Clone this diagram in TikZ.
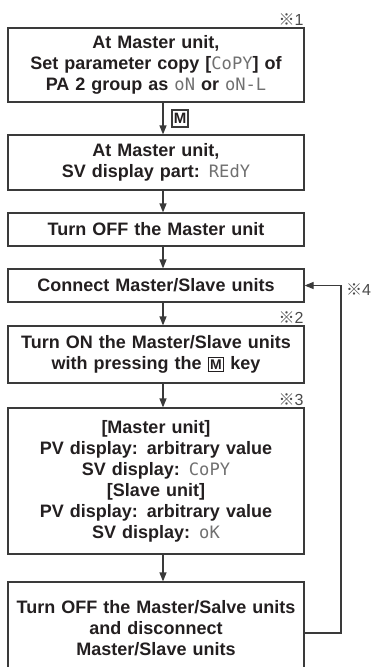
\documentclass[tikz,border=0pt]{standalone}
\usepackage{fontspec}
\usepackage{xcolor}
\usepackage{tikz}
\usetikzlibrary{arrows.meta}
\setmainfont{Liberation Sans}
\newfontfamily\segfont[Scale=0.95]{DejaVu Sans Mono}
\newfontfamily\cjkfont{Noto Sans CJK JP}
\definecolor{ink}{HTML}{231F20}
\definecolor{frame}{HTML}{3A3A3A}
\definecolor{segment}{HTML}{707070}
\definecolor{muted}{HTML}{4A4A4A}
\newcommand{\seg}[1]{{\segfont\mdseries\color{segment}#1}}
\newcommand{\refmark}[1]{{\cjkfont ※}#1}
\newcommand{\keycap}{{\setlength{\fboxsep}{1.5pt}\setlength{\fboxrule}{1pt}\fbox{\fontsize{14}{14}\selectfont M}}}

\begin{document}
\begin{tikzpicture}[x=1pt,y=-1pt,
        box/.style={draw=frame,line width=1.2pt,text=ink,font=\fontsize{18}{21}\selectfont\bfseries,
                align=center,text width=290pt,inner xsep=3pt,inner ysep=0pt,minimum width=296pt},
        flow/.style={draw=frame,line width=1.2pt,-{Triangle[length=9pt,width=7pt]}},
        note/.style={text=muted,font=\fontsize{16}{16}\selectfont,inner sep=1pt}]
        \useasboundingbox (0,0) rectangle (373,667);

        % steps
        \node[box,minimum height=74pt] (b1) at (156,65) {At Master unit,\\Set parameter copy [\seg{CoPY}] of\\PA 2 group as \seg{oN} or \seg{oN-L}};
        \node[box,minimum height=55pt] (b2) at (156,162.5) {At Master unit,\\SV display part: \seg{REdY}};
        \node[box,minimum height=33pt] (b3) at (156,229.5) {Turn OFF the Master unit};
        \node[box,minimum height=33pt] (b4) at (156,285.5) {Connect Master/Slave units};
        \node[box,minimum height=57pt] (b5) at (156,354.5) {Turn ON the Master/Slave units\\with pressing the \keycap{} key};
        \node[box,minimum height=146pt] (b6) at (156,481) {[Master unit]\\PV display: arbitrary value\\SV display: \seg{CoPY}\\[0pt][Slave unit]\\PV display: arbitrary value\\SV display: \seg{oK}};
        \node[box,minimum height=92pt] (b7) at (156,628) {Turn OFF the Master/Salve units\\and disconnect\\Master/Slave units};

        % arrows down
        \coordinate (ax) at (163,0);
        \foreach \a/\b in {b1/b2,b2/b3,b3/b4,b4/b5,b5/b6,b6/b7}{
                \draw[flow] (\a.south -| ax) -- (\b.north -| ax);
            }
        \node[draw=frame,line width=1.2pt,text=ink,font=\fontsize{15}{15}\selectfont\bfseries,
                minimum width=16pt,minimum height=17pt,inner sep=0pt] (mkey) at (180,118.5) {M};

        % loop back
        \coordinate (rt) at (341,450);
        \draw[flow] ([yshift=-5pt]b7.east) -| (rt) |- (b4.east);

        % notes
        \node[note,anchor=south east] (n1) at ([yshift=1pt]b1.north east) {\refmark{1}};
        \node[note,anchor=south east] (n2) at ([yshift=1pt]b5.north east) {\refmark{2}};
        \node[note,anchor=south east] (n3) at ([yshift=1pt]b6.north east) {\refmark{3}};
        \node[note,anchor=west] (n4) at (345,290) {\refmark{4}};
    \end{tikzpicture}
\end{document}
